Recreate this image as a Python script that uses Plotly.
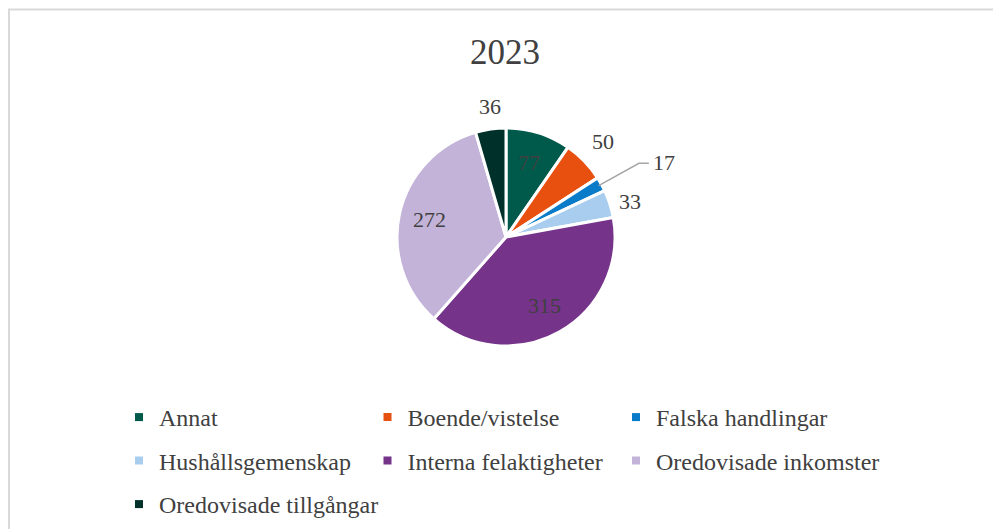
import math
import plotly.graph_objects as go

categories = ["Annat", "Boende/vistelse", "Falska handlingar", "Hushållsgemenskap",
              "Interna felaktigheter", "Oredovisade inkomster", "Oredovisade tillgångar"]
values = [77, 50, 17, 33, 315, 272, 36]
colors = ["#005A4B", "#E8500F", "#0A7BC8", "#A9CDEF", "#76338A", "#C3B3D9", "#00302A"]
title_text = "2023"

# the page body has an 8px margin, so the figure is 8px smaller than the window
W, H = 993, 521
cx, cy, r = 498, 229, 109   # pie centre / radius in figure pixels
FONT = "Liberation Serif"
TXT = "#404040"


def px(x):
    return x / W


def py(y):
    return 1 - y / H


fig = go.Figure()
fig.add_trace(go.Pie(
    labels=categories, values=values, sort=False, direction="clockwise", rotation=0,
    marker=dict(colors=colors, line=dict(color="white", width=3)),
    textinfo="none", showlegend=False,
    domain=dict(x=[px(cx - r), px(cx + r)], y=[py(cy + r), py(cy - r)]),
    hoverinfo="label+value+percent",
))

# legend: 3 columns, one small legend per entry so rows can be spaced like the original
n_cols = 3
col_x0, col_step = 111, 248.5
row_y0, row_step = 387, 43.5
layout_legends = {}
for i, cat in enumerate(categories):
    lname = "legend" if i == 0 else f"legend{i + 1}"
    fig.add_trace(go.Scatter(
        x=[None], y=[None], mode="markers", name=cat,
        marker=dict(symbol="square", size=8, color=colors[i]),
        legend=lname, hoverinfo="skip"))
    col, row = i % n_cols, i // n_cols
    layout_legends[lname] = dict(
        orientation="h", x=px(col_x0 + col * col_step), xanchor="left",
        y=py(row_y0 + row * row_step), yanchor="top",
        font=dict(family=FONT, size=24, color=TXT), bgcolor="rgba(0,0,0,0)")

# value labels computed from the slice angles
total = sum(values)
annotations = []
shapes = [dict(type="rect", xref="paper", yref="paper", x0=px(1), x1=1.05, y0=-0.05, y1=py(1.5),
               line=dict(color="#D9D9D9", width=2), fillcolor="rgba(0,0,0,0)", layer="below")]
cum = 0
for v in values:
    frac = v / total
    mid = 2 * math.pi * (cum + v / 2) / total
    cum += v
    s, c = math.sin(mid), math.cos(mid)
    if frac >= 0.07:
        d = 0.72 * r
        annotations.append(dict(x=px(cx + d * s), y=py(cy - d * c), xref="paper", yref="paper",
                                text=str(v), showarrow=False, xanchor="center", yanchor="middle",
                                font=dict(family=FONT, size=22, color=TXT)))
    elif frac >= 0.03:
        d = r + 8
        xa = "left" if s > 0.4 else ("right" if s < -0.4 else "center")
        ya = "bottom" if c > 0.4 else ("top" if c < -0.4 else "middle")
        annotations.append(dict(x=px(cx + d * s), y=py(cy - d * c), xref="paper", yref="paper",
                                text=str(v), showarrow=False, xanchor=xa, yanchor=ya,
                                font=dict(family=FONT, size=22, color=TXT)))
    else:
        x0, y0 = cx + (r - 3) * s, cy - (r - 3) * c
        d = r + 43
        x1, y1 = cx + d * s, cy - d * c
        x2 = x1 + 10
        path = f"M{px(x0)},{py(y0)} L{px(x1)},{py(y1)} L{px(x2)},{py(y1)}"
        shapes.append(dict(type="path", xref="paper", yref="paper", path=path,
                           line=dict(color="#A6A6A6", width=1.5)))
        annotations.append(dict(x=px(x2 + 2), y=py(y1 - 1), xref="paper", yref="paper",
                                text=str(v), showarrow=False, xanchor="left", yanchor="middle",
                                font=dict(family=FONT, size=22, color=TXT)))

fig.update_layout(
    width=W, height=H,
    margin=dict(l=0, r=0, t=0, b=0),
    paper_bgcolor="white", plot_bgcolor="white",
    xaxis=dict(visible=False), yaxis=dict(visible=False),
    title=dict(text=title_text, x=px(497), xanchor="center", y=py(44), yanchor="middle",
               font=dict(family=FONT, size=35, color=TXT)),
    annotations=annotations,
    shapes=shapes,
    **layout_legends,
)

fig.write_html("out.html")
